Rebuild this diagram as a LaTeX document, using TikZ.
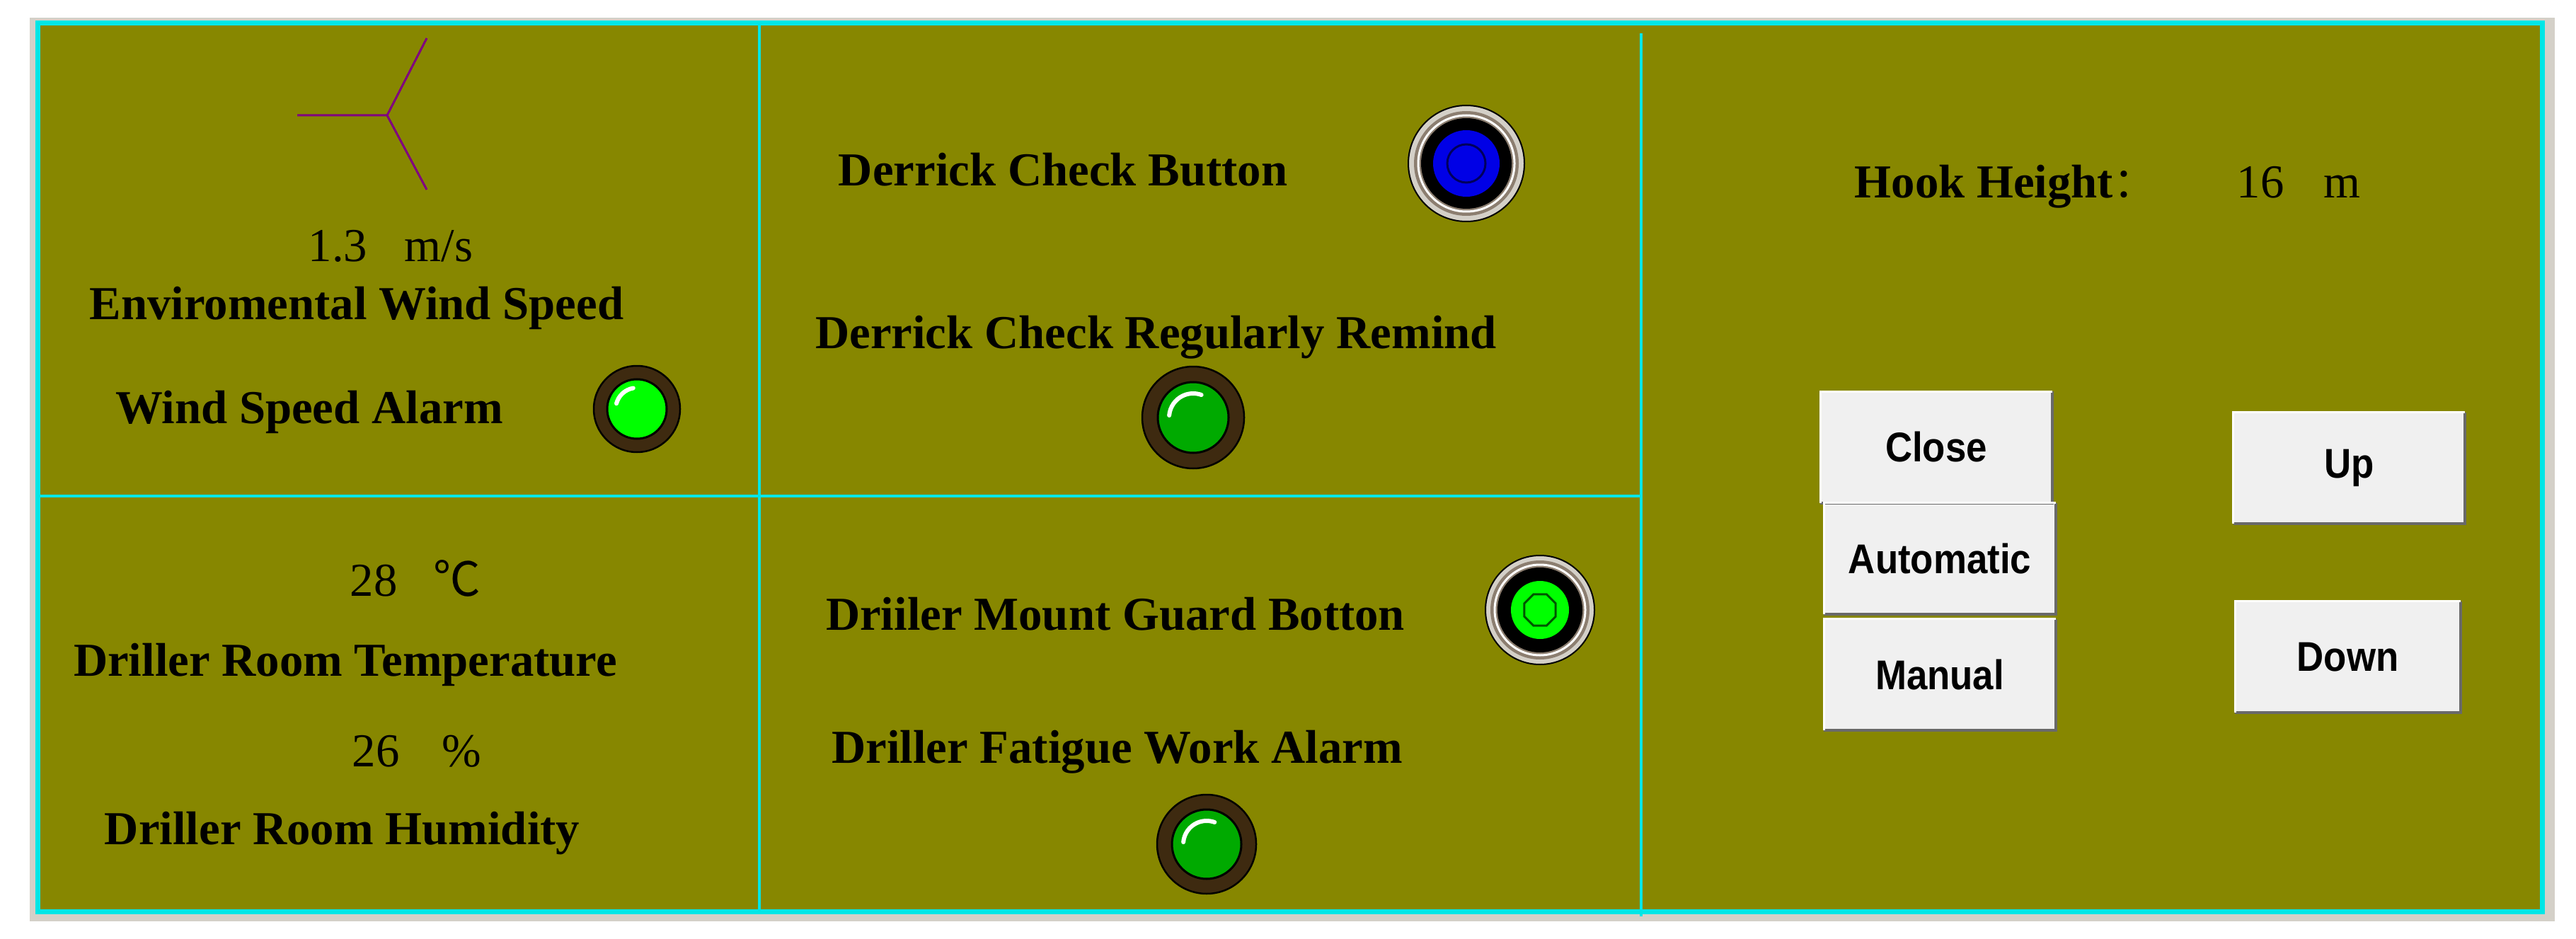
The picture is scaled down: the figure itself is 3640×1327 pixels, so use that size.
\documentclass[tikz,border=0pt]{standalone}
\usepackage{fontspec}
\setmainfont{Liberation Serif}
\newfontfamily\cjkfont{Noto Sans CJK SC}
\newfontfamily\btnfont{Liberation Sans}[FakeStretch=0.9]
\usetikzlibrary{shapes.geometric}

\definecolor{panel}{RGB}{135,135,0}
\definecolor{rulecol}{RGB}{0,230,230}
\definecolor{framecol}{RGB}{212,208,200}
\definecolor{vanecol}{RGB}{128,0,128}
\definecolor{lampring}{RGB}{62,42,16}
\definecolor{lampon}{RGB}{0,255,0}
\definecolor{lampdim}{RGB}{0,170,0}
\definecolor{knobrim}{RGB}{140,126,112}
\definecolor{knobblue}{RGB}{0,0,230}
\definecolor{btnface}{RGB}{240,240,240}
\definecolor{btnshade}{RGB}{105,105,105}

\tikzset{
	lbl/.style={font=\fontsize{19}{22}\selectfont\bfseries, inner sep=0pt, anchor=base},
	val/.style={font=\fontsize{19}{22}\selectfont, inner sep=0pt, anchor=base west},
	btn/.style={fill=btnface, minimum width=32.6mm, minimum height=15.6mm, inner sep=0pt,
		font=\btnfont\fontsize{16.7}{18}\selectfont\bfseries},
	lamp/.style={circle, fill=lampring, draw=black, line width=0.25mm, inner sep=0pt},
	knob/.style={circle, fill=framecol, draw=black, line width=0.2mm, inner sep=0pt},
	hilite/.style={white, line width=0.6mm, line cap=round},
	divider/.style={rulecol, line width=0.35mm},
}

\begin{document}
\begin{tikzpicture}[x=0.1mm, y=-0.1mm]
	\useasboundingbox (0,0) rectangle (3640,1327);
	% window frame
	\fill[white] (0,0) rectangle (3640,1327);
	\fill[framecol] (42,25) rectangle (3610,1302);
	\draw[rulecol, fill=panel, line width=0.7mm] (53.5,32.5) rectangle (3592,1288);
	% dividers
	\draw[divider] (1073,36) -- (1073,1285);
	\draw[divider] (2319,47) -- (2319,1295);
	\draw[divider] (57,701) -- (2319,701);

	% wind direction vane
	\coordinate (vane) at (547,163);
	\draw[vanecol, line width=0.3mm] (420,163) -- (vane) -- (603,54) (vane) -- (603,268);
	% wind speed
	\node[val] (wsval) at (435,370) {1.3\hspace{15pt}m/s};
	\node[lbl] (wslbl) at (504,451) {Enviromental Wind Speed};
	\node[lbl] (walbl) at (437,598) {Wind Speed Alarm};
	\node[lamp, minimum size=12.2mm] (walamp) at (900,578) {};
	\fill[lampon, draw=black, line width=0.3mm] (walamp.center) circle (42);
	\draw[hilite] (walamp.center) ++(195:30) arc[start angle=195, end angle=260, radius=30];

	% temperature and humidity
	\node[val] (tval) at (494,842) {28\hspace{14.5pt}{\cjkfont ℃}};
	\node[lbl] (tlbl) at (488,955) {Driller Room Temperature};
	\node[val] (hval) at (497,1083) {26\hspace{17pt}\%};
	\node[lbl] (hlbl) at (483.5,1193) {Driller Room Humidity};

	% derrick check
	\node[lbl] (dclbl) at (1502,263) {Derrick Check Button};
	\node[knob, minimum size=16.4mm] (dcknob) at (2072,231) {};
	\fill[knobrim] (dcknob.center) circle (74);
	\draw[white, line width=0.3mm] (dcknob.center) circle (68);
	\fill[black] (dcknob.center) circle (64);
	\fill[knobblue] (dcknob.center) circle (47);
	\draw[black!60!knobblue, line width=0.3mm] (dcknob.center) circle (27);
	\node[lbl] (dcrem) at (1633.5,492) {Derrick Check Regularly Remind};
	\node[lamp, minimum size=14.4mm] (dclamp) at (1686,590) {};
	\fill[lampdim, draw=black, line width=0.3mm] (dclamp.center) circle (50);
	\draw[hilite] (dclamp.center) ++(185:34) arc[start angle=185, end angle=290, radius=34];

	% driller guard and fatigue
	\node[lbl] (dglbl) at (1576,890) {Driiler Mount Guard Botton};
	\node[knob, minimum size=15.4mm] (dgknob) at (2176,862) {};
	\fill[knobrim] (dgknob.center) circle (70);
	\draw[white, line width=0.3mm] (dgknob.center) circle (64);
	\fill[black] (dgknob.center) circle (60);
	\fill[lampon] (dgknob.center) circle (41);
	\node[regular polygon, regular polygon sides=8, draw=black!50!lampdim, line width=0.3mm,
		minimum size=4.8mm, inner sep=0pt] (dgcore) at (dgknob.center) {};
	\node[lbl] (dflbl) at (1578.5,1078) {Driller Fatigue Work Alarm};
	\node[lamp, minimum size=14mm] (dflamp) at (1705,1193) {};
	\fill[lampdim, draw=black, line width=0.3mm] (dflamp.center) circle (49);
	\draw[hilite] (dflamp.center) ++(185:33) arc[start angle=185, end angle=290, radius=33];

	% hook height
	\node[lbl, anchor=base west] (hhlbl) at (2620,280) {Hook Height{\cjkfont\mdseries\fontsize{17}{20}\selectfont ：}};
	\node[val] (hhval) at (3160,280) {16\hspace{16pt}m};

	% control buttons
	\node[btn] (close) at (2736,632) {Close};
	\node[btn] (auto) at (2741,789.5) {Automatic};
	\node[btn] (manual) at (2741,953.5) {Manual};
	\node[btn] (up) at (3319.5,661.5) {Up};
	\node[btn, minimum width=31.7mm] (down) at (3317.5,928.5) {Down};
	\foreach \b in {close,auto,manual,up,down}
	{
		\draw[btnshade, line width=0.4mm] (\b.south west) -- (\b.south east) -- (\b.north east);
		\draw[white, line width=0.3mm] (\b.south west) -- (\b.north west) -- (\b.north east);
	}
\end{tikzpicture}
\end{document}
